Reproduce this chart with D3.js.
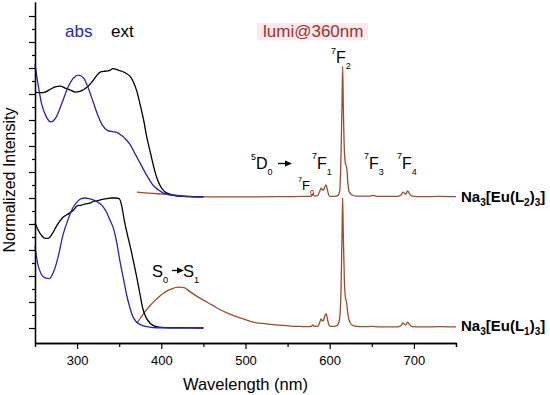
<!DOCTYPE html>
<html>
<head>
<meta charset="utf-8">
<script src="https://cdn.jsdelivr.net/npm/d3@7"></script>
<style>
  body { margin: 0; background: #fff; }
  svg { display: block; font-family: Arial, "Liberation Sans", sans-serif; }
</style>
</head>
<body>
<svg id="chart" width="550" height="395"></svg>
<script>
// upper set (Na3[Eu(L2)3]), offset by 10 units
const absTopNm = [250, 254, 258, 263, 269, 275, 282, 289, 296, 302, 308, 313, 319, 325, 330, 336, 342, 347, 353, 358, 363, 368, 373, 378, 384, 390, 396, 402, 410, 422, 435, 450];
const absTop = [20.3, 18.6, 17.2, 16.3, 15.85, 16.2, 17.3, 18.5, 19.25, 19.45, 19.2, 18.5, 17.4, 16.3, 15.6, 15.2, 15.1, 15.05, 14.8, 14.5, 14.1, 13.5, 12.9, 12.3, 11.6, 11.0, 10.65, 10.4, 10.25, 10.15, 10.1, 10.08];

const extTopNm = [250, 256, 262, 268, 274, 280, 286, 292, 298, 303, 308, 313, 318, 323, 328, 333, 338, 343, 348, 353, 358, 363, 367, 371, 375, 379, 383, 387, 391, 395, 399, 403, 408, 415, 425, 450];
const extTop = [18.15, 18.1, 18.15, 18.35, 18.55, 18.6, 18.45, 18.3, 18.15, 18.2, 18.35, 18.6, 18.95, 19.4, 19.7, 19.75, 19.8, 19.95, 19.85, 19.75, 19.6, 19.35, 18.9, 18.2, 17.15, 16.0, 14.6, 13.5, 12.4, 11.5, 10.9, 10.55, 10.35, 10.2, 10.12, 10.08];

const lumTopNm = [371, 380, 390, 402, 420, 442, 470, 500, 540, 570, 578, 580, 582, 586, 588, 590, 591.5, 593, 594.5, 595.6, 597, 598.5, 600, 606, 610, 612, 613.5, 614.7, 615.4, 616.2, 617.5, 618.8, 620.3, 621.5, 623, 626, 632, 648, 652, 656, 680, 685, 687, 689, 690.5, 692.5, 695, 698, 710, 730, 750];
const lumTop = [10.45, 10.4, 10.35, 10.3, 10.2, 10.1, 10.08, 10.08, 10.1, 10.12, 10.15, 10.3, 10.15, 10.2, 10.5, 10.75, 10.6, 10.65, 10.9, 11.0, 10.7, 10.3, 10.12, 10.12, 10.2, 10.6, 13.5, 17.5, 20.1, 17.0, 13.5, 12.6, 12.3, 11.2, 10.5, 10.25, 10.15, 10.15, 10.2, 10.13, 10.12, 10.25, 10.45, 10.35, 10.3, 10.55, 10.3, 10.15, 10.1, 10.12, 10.1];

// lower set (Na3[Eu(L1)3])
const absBotNm = [250, 253, 257, 262, 267, 272, 278, 283, 289, 295, 300, 305, 309, 314, 319, 324, 330, 335, 339, 343, 347, 351, 355, 359, 363, 366, 370, 374, 378, 386, 395, 450];
const absBot = [6.3, 5.0, 4.2, 3.85, 3.8, 4.3, 5.6, 7.1, 8.3, 9.25, 9.7, 9.95, 10.0, 9.95, 9.85, 9.7, 9.4, 8.9, 8.3, 7.7, 6.6, 5.1, 3.8, 2.5, 1.5, 0.9, 0.5, 0.3, 0.18, 0.07, 0.02, 0];

const extBotNm = [250, 254, 258, 262, 266, 270, 276, 283, 290, 296, 300, 305, 310, 315, 320, 325, 330, 335, 341, 346, 350, 353, 356, 360, 363, 367, 371, 375, 378, 382, 387, 392, 400, 410, 450];
const extBot = [8.1, 7.5, 7.1, 6.9, 6.9, 7.2, 7.9, 8.5, 8.8, 9.1, 9.4, 9.45, 9.55, 9.6, 9.75, 9.8, 9.9, 9.95, 10.0, 10.0, 9.95, 9.4, 8.3, 7.1, 6.3, 5.1, 3.85, 2.5, 1.5, 0.8, 0.35, 0.15, 0.05, 0.02, 0];

const lumBotNm = [371, 375, 380, 387, 394, 402, 410, 420, 427, 434, 442, 454, 462, 470, 480, 490, 500, 509, 520, 529, 540, 553, 565, 575, 578, 580, 582, 586, 588, 589.7, 591.2, 592.6, 594, 595.6, 597, 598.5, 600, 605, 609, 611.5, 613.5, 614.7, 615.4, 616.2, 617.5, 618.8, 620, 621.2, 623, 626, 632, 640, 650, 660, 680, 685, 687, 689, 690.5, 692.5, 695, 698, 710, 730, 750];
const lumBot = [0.38, 0.75, 1.2, 1.75, 2.2, 2.65, 2.95, 3.15, 3.1, 2.8, 2.45, 2.0, 1.7, 1.4, 1.1, 0.85, 0.65, 0.45, 0.35, 0.28, 0.22, 0.15, 0.12, 0.1, 0.12, 0.23, 0.12, 0.15, 0.4, 0.7, 0.55, 0.6, 0.9, 1.1, 0.8, 0.35, 0.15, 0.12, 0.2, 0.6, 3.0, 7.5, 10.0, 7.0, 3.5, 2.3, 2.0, 1.3, 0.6, 0.25, 0.12, 0.1, 0.12, 0.08, 0.08, 0.2, 0.4, 0.28, 0.25, 0.45, 0.25, 0.1, 0.08, 0.1, 0.08];

const xMajor = [300, 400, 500, 600, 700];
const xMinor = [250, 350, 450, 550, 650, 750];
const yMajor = d3.range(0, 25, 2);
const yMinor = d3.range(1, 25, 2);

const BLUE = "#2621c4";
const LUMI = "#a34a28";

const svg = d3.select("#chart");

const x = d3.scaleLinear().domain([250, 750]).range([35, 456]);
const y = d3.scaleLinear().domain([-15 / 13, 326 / 13]).range([343, 2]);

// faint pink highlight behind lumi label
svg.append("rect")
  .attr("x", 257).attr("y", 23).attr("width", 111).attr("height", 17)
  .attr("fill", "#fde8ef");

function series(nm, vals, color) {
  const pts = nm.map((d, i) => [d, vals[i]]);
  const line = d3.line()
    .x(d => x(d[0]))
    .y(d => y(d[1]))
    .curve(d3.curveMonotoneX);
  svg.append("path")
    .attr("d", line(pts))
    .attr("fill", "none")
    .attr("stroke", color)
    .attr("stroke-width", 1.3)
    .attr("stroke-linejoin", "round");
}

series(lumBotNm, lumBot, LUMI);
series(lumTopNm, lumTop, LUMI);
series(extBotNm, extBot, "#000");
series(absBotNm, absBot, BLUE);
series(extTopNm, extTop, "#000");
series(absTopNm, absTop, BLUE);

// axes
function styleAxis(g) {
  g.select(".domain").attr("stroke", "#000").attr("stroke-width", 1.3);
  g.selectAll(".tick line").attr("stroke", "#000").attr("stroke-width", 1.2);
}

svg.append("g")
  .attr("transform", "translate(0,343)")
  .call(d3.axisBottom(x).tickValues(xMinor).tickSize(4).tickFormat(""))
  .call(styleAxis);

svg.append("g")
  .attr("transform", "translate(0,343)")
  .call(d3.axisBottom(x).tickValues(xMajor).tickSize(6).tickPadding(7).tickSizeOuter(0))
  .call(styleAxis)
  .call(g => g.selectAll("text").attr("font-size", 13).attr("fill", "#000")
    .attr("font-family", "Arial, 'Liberation Sans', sans-serif"));

svg.append("g")
  .attr("transform", "translate(35,0)")
  .call(d3.axisLeft(y).tickValues(yMinor).tickSize(3).tickFormat("").tickSizeOuter(0))
  .call(styleAxis);

svg.append("g")
  .attr("transform", "translate(35,0)")
  .call(d3.axisLeft(y).tickValues(yMajor).tickSize(6).tickFormat("").tickSizeOuter(0))
  .call(styleAxis);

svg.append("text")
  .attr("x", x(500)).attr("y", 390)
  .attr("text-anchor", "middle")
  .attr("font-size", 16.5)
  .text("Wavelength (nm)");

svg.append("text")
  .attr("transform", "translate(15,180) rotate(-90)")
  .attr("text-anchor", "middle")
  .attr("font-size", 16)
  .text("Normalized Intensity");

// legend-ish labels
svg.append("text").attr("x", 65).attr("y", 37).attr("font-size", 17).attr("fill", BLUE).text("abs");
svg.append("text").attr("x", 111).attr("y", 37).attr("font-size", 17).attr("fill", "#000").text("ext");
svg.append("text").attr("x", 263).attr("y", 37).attr("font-size", 17).attr("fill", "#a0302a").text("lumi@360nm");

// small helper for term symbols like 7F2
function term(xs, ys, sup, main, sub, size) {
  const small = size * 0.56;
  const t = svg.append("text").attr("x", xs).attr("y", ys).attr("font-size", size);
  if (sup) t.append("tspan").attr("font-size", small).attr("dy", -size * 0.58).text(sup);
  t.append("tspan").attr("dy", sup ? size * 0.58 : 0).text(main);
  if (sub) t.append("tspan").attr("font-size", small).attr("dy", size * 0.38).text(sub);
}

function arrow(x1, x2, yy) {
  svg.append("line")
    .attr("x1", x1).attr("x2", x2 - 5).attr("y1", yy).attr("y2", yy)
    .attr("stroke", "#000").attr("stroke-width", 1.3);
  svg.append("path")
    .attr("d", `M${x2},${yy} L${x2 - 7},${yy - 3} L${x2 - 7},${yy + 3} Z`)
    .attr("fill", "#000");
}

term(331, 63, "7", "F", "2", 16);
term(251, 169, "5", "D", "0", 16);
arrow(278, 292, 163.5);
term(312, 168.5, "7", "F", "1", 16);
term(298, 190, "7", "F", "0", 13);
term(364, 168.5, "7", "F", "3", 16);
term(397, 168.5, "7", "F", "4", 16);

// S0 -> S1
term(152, 277, null, "S", "0", 16.5);
arrow(172, 184, 270.5);
term(183, 277, null, "S", "1", 16.5);

// compound labels
function compound(yy, ligand) {
  const t = svg.append("text").attr("x", 461).attr("y", yy)
    .attr("font-size", 15).attr("font-weight", "bold");
  t.append("tspan").text("Na");
  t.append("tspan").attr("font-size", 10).attr("dy", 4).text("3");
  t.append("tspan").attr("dy", -4).text("[Eu(L");
  t.append("tspan").attr("font-size", 10).attr("dy", 4).text(ligand);
  t.append("tspan").attr("dy", -4).text(")");
  t.append("tspan").attr("font-size", 10).attr("dy", 4).text("3");
  t.append("tspan").attr("dy", -4).text("]");
}
compound(201.5, "2");
compound(330.5, "1");
</script>
</body>
</html>
